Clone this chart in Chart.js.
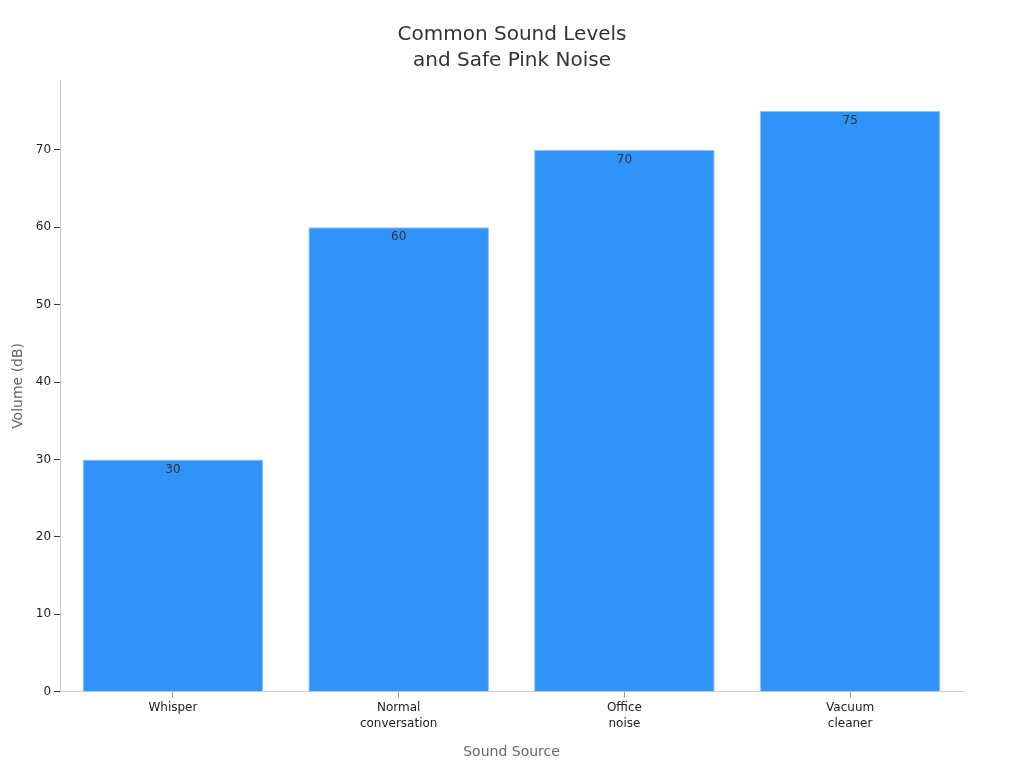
<!DOCTYPE html>
<html>
<head>
<meta charset="utf-8">
<script src="https://cdn.jsdelivr.net/npm/chart.js@4.4.0/dist/chart.umd.min.js"></script>
<style>
  html, body { margin: 0; padding: 0; background: #fff; }
  #wrap { width: 1024px; height: 768px; }
</style>
</head>
<body>
<div id="wrap"><canvas id="chart" width="1024" height="768"></canvas></div>
<script>
const categories = [['Whisper'], ['Normal', 'conversation'], ['Office', 'noise'], ['Vacuum', 'cleaner']];
const volumes = [30, 60, 70, 75];
const yTicks = [0, 10, 20, 30, 40, 50, 60, 70];

// draws the value just under the top edge of each bar
const valueLabels = {
    id: 'valueLabels',
    afterLayout(chart) {
        // centre the title on the whole canvas, not the padded area
        if (chart.titleBlock) {
            chart.titleBlock.left = 0;
            chart.titleBlock.right = chart.width;
        }
    },
    afterDatasetsDraw(chart) {
        const ctx = chart.ctx;
        const meta = chart.getDatasetMeta(0);
        ctx.save();
        ctx.font = '12px "DejaVu Sans"';
        ctx.fillStyle = '#333';
        ctx.textAlign = 'center';
        ctx.textBaseline = 'top';
        meta.data.forEach((bar, i) => {
            ctx.fillText(String(volumes[i]), bar.x, bar.y + 4);
        });
        ctx.restore();
    }
};

Chart.defaults.font.family = '"DejaVu Sans", sans-serif';

new Chart(document.getElementById('chart'), {
    type: 'bar',
    data: {
        labels: categories,
        datasets: [{
            data: volumes,
            backgroundColor: '#2f93f8',
            borderColor: '#8cc4fb',
            borderWidth: 1,
            barPercentage: 0.8,
            categoryPercentage: 1.0
        }]
    },
    options: {
        responsive: false,
        animation: false,
        layout: { padding: { top: 10, right: 61, left: 6, bottom: 3 } },
        plugins: {
            legend: { display: false },
            tooltip: { enabled: false },
            title: {
                display: true,
                text: ['Common Sound Levels', 'and Safe Pink Noise'],
                color: '#333',
                font: { size: 20, weight: 'normal', lineHeight: 1.3 },
                padding: { top: 12, bottom: 6 }
            }
        },
        scales: {
            x: {
                grid: { drawOnChartArea: false, offset: false, tickLength: 6, color: '#999' },
                border: { color: '#ccc' },
                ticks: { color: '#222', font: { size: 12, lineHeight: 1.35 }, padding: 2 },
                title: {
                    display: true,
                    text: 'Sound Source',
                    color: '#666',
                    font: { size: 14 },
                    padding: { top: 10 }
                }
            },
            y: {
                min: 0,
                max: 79,
                afterBuildTicks(scale) {
                    scale.ticks = yTicks.map(v => ({ value: v }));
                },
                grid: { drawOnChartArea: false, tickLength: 6, color: '#333' },
                border: { color: '#ccc' },
                ticks: { color: '#222', font: { size: 12 }, padding: 3 },
                title: {
                    display: true,
                    text: 'Volume (dB)',
                    color: '#666',
                    font: { size: 14 },
                    padding: { bottom: 6 }
                }
            }
        }
    },
    plugins: [valueLabels]
});
</script>
</body>
</html>
